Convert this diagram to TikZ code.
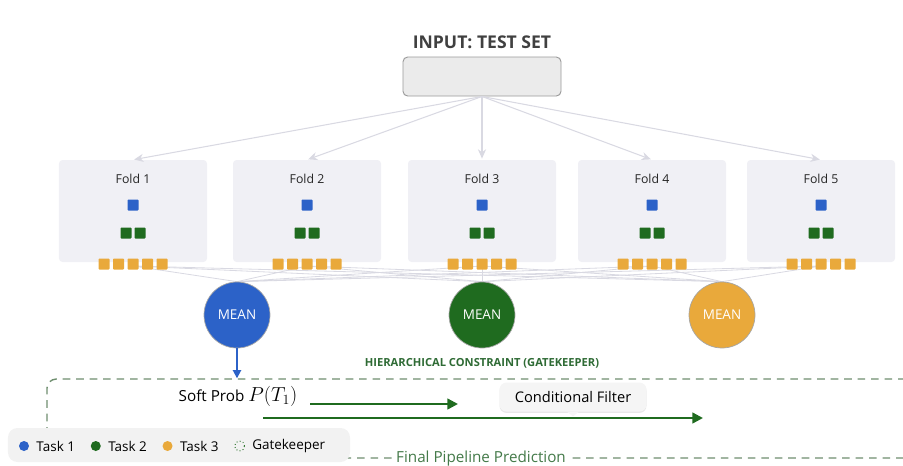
\documentclass[tikz,border=0pt]{standalone}
\usepackage{fontspec}
\setmainfont{Open Sans}
\usetikzlibrary{positioning,arrows.meta,backgrounds,shadows}
\definecolor{taskblue}{HTML}{2C62C8}
\definecolor{taskgreen}{HTML}{1F6B1F}
\definecolor{taskorange}{HTML}{E9A93B}
\definecolor{foldgray}{HTML}{F0F0F5}
\definecolor{linkgray}{HTML}{D9D9E2}
\definecolor{gatedash}{HTML}{6E8E6E}
\definecolor{gatetext}{HTML}{2F6B35}

\begin{document}
\begin{tikzpicture}[x=0.03cm, y=-0.03cm,
					foldbox/.style={fill=foldgray, rounded corners=3pt, minimum width=4.44cm, minimum height=3.06cm},
					foldlabel/.style={font=\fontsize{10.5}{12}\selectfont, text=black!85},
					sq/.style={minimum size=0.33cm, inner sep=0pt, rounded corners=0.8pt},
					feed/.style={draw=linkgray, line width=0.9pt, -{Stealth[length=8pt,width=7pt]}, shorten >=1pt},
					link/.style={draw=linkgray, line width=0.7pt},
					mean/.style={circle, minimum size=1.98cm, draw=gray!70, line width=0.6pt, text=white, font=\fontsize{11.5}{13}\selectfont},
					gatebox/.style={draw=gatedash, dash pattern=on 6.5pt off 5pt, line width=1.2pt, rounded corners=8pt, minimum width=26.04cm, minimum height=2.37cm},
					greenarrow/.style={draw=taskgreen, line width=2pt, -{Triangle[length=9pt,width=9pt]}},
					legtext/.style={font=\fontsize{11.5}{13}\selectfont, inner sep=1pt},
					dot/.style={circle, minimum size=0.3cm, inner sep=0pt}]
					\useasboundingbox (0,0) rectangle (903,465);
					\node[font=\bfseries\fontsize{15}{17}\selectfont, text=black!75] (title) at (482,42) {INPUT: TEST SET};
					\node[fill=black!8, draw=black!40, line width=0.8pt, rounded corners=4pt, minimum width=4.74cm, minimum height=1.17cm] (input) at (482,76.5) {};
					\foreach \x [count=\i] in {133,307,482,652,821} {
					\node[foldbox] (fold\i) at (\x,211) {};
					\node[foldlabel] (foldname\i) at (\x,179) {Fold \i};
					\node[sq, fill=taskblue] (tasko\i) at (\x,205) {};
					\node[sq, fill=taskgreen] (tasktwa\i) at (\x-7,233) {};
					\node[sq, fill=taskgreen] (tasktwb\i) at (\x+7,233) {};
					\foreach \k in {-2,...,2}
					\node[sq, fill=taskorange] (tasktr\i\k) at (\x+14.5*\k,264) {};
					\coordinate (row\i) at (\x,266);
					}
					\foreach \i in {1,...,5}
					\draw[feed] (input.south) -- (fold\i.north);
					\node[mean, fill=taskblue] (mean1) at (237,315) {MEAN};
					\node[mean, fill=taskgreen] (mean2) at (482,315) {MEAN};
					\node[mean, fill=taskorange] (mean3) at (722,315) {MEAN};
					\begin{scope}[on background layer]
					\foreach \i in {1,...,5}
					\foreach \j in {1,2,3}
					\draw[link] (row\i) -- (mean\j.north);
					\end{scope}
					\node[gatebox] (gate) at (481,418.5) {};
					\node[font=\bfseries\fontsize{9.5}{11}\selectfont, text=gatetext] (gatename) at (482,363) {HIERARCHICAL CONSTRAINT (GATEKEEPER)};
					\draw[draw=taskblue, line width=1.5pt, -{Triangle[length=7pt,width=7pt]}] (mean1.south) -- (gate.north -| mean1.south);
					\node[font=\fontsize{13}{15}\selectfont] (soft) at (238,396) {Soft Prob {\fontsize{16.5}{18}\selectfont$P(T_1)$}};
					\coordinate (filtoa) at (310,404);
					\coordinate (filtob) at (458,404);
					\coordinate (filtta) at (263,418);
					\coordinate (filttb) at (703,418);
					\draw[greenarrow] (filtoa) -- (filtob);
					\draw[greenarrow] (filtta) -- (filttb);
					\node[fill=black!4, rounded corners=6pt, minimum width=4.41cm, minimum height=0.87cm, font=\fontsize{12.5}{14}\selectfont, drop shadow={opacity=0.18, shadow xshift=0pt, shadow yshift=-1.2pt}] (filter) at (573,397) {Conditional Filter};
					\fill[black!4] ([xshift=-5pt]filter.south) -- ([yshift=-4pt]filter.south) -- ([xshift=5pt]filter.south) -- cycle;
					\node[fill=white, inner sep=2pt, text=gatetext!90, font=\fontsize{13}{15}\selectfont] (final) at (gate.south) {Final Pipeline Prediction};
					\node[fill=black!5, rounded corners=8pt, minimum width=10.26cm, minimum height=1.02cm] (legend) at (179,445) {};
					\node[dot, fill=taskblue] (doto) at (24,446) {};
					\node[legtext, right=5pt of doto] (lego) {Task 1};
					\node[dot, fill=taskgreen, right=12pt of lego] (dottw) {};
					\node[legtext, right=5pt of dottw] (legtw) {Task 2};
					\node[dot, fill=taskorange, right=12pt of legtw] (dottr) {};
					\node[legtext, right=5pt of dottr] (legtr) {Task 3};
					\node[dot, draw=taskgreen, dotted, line width=0.8pt, right=12pt of legtr] (dotg) {};
					\node[legtext, right=5pt of dotg] (legg) {Gatekeeper};
					\end{tikzpicture}
\end{document}
